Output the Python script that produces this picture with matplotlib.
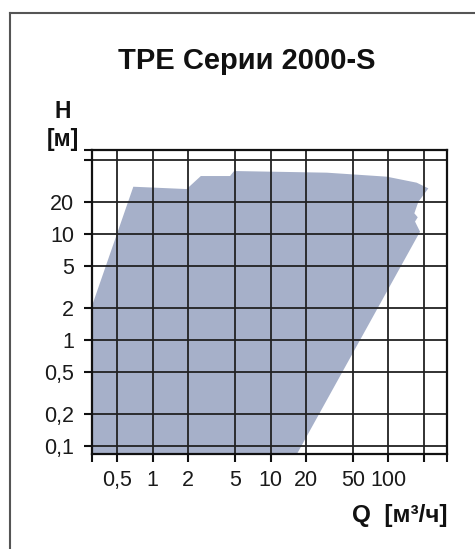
import matplotlib
matplotlib.use("Agg")
import matplotlib.pyplot as plt
from matplotlib.lines import Line2D

plt.rcParams['font.family'] = ['Liberation Sans', 'DejaVu Sans']

# Data
x_ticks = [0.5, 1, 2, 5, 10, 20, 50, 100]
x_tick_labels = ['0,5', '1', '2', '5', '10', '20', '50', '100']
x_extra_grid = [200]
y_ticks = [0.1, 0.2, 0.5, 1, 2, 5, 10, 20]
y_tick_labels = ['0,1', '0,2', '0,5', '1', '2', '5', '10', '20']
y_extra_grid = [50]

# Operating range polygon (Q [m3/h], H [m])
area_q = [0.28, 0.28, 0.684, 1.94, 2.56, 4.53, 4.9, 30, 97, 174, 218.6,
          179.8, 166.3, 177.6, 168.5, 179.8, 185.8, 16.4]
area_h = [0.08, 1.6, 28.2, 26.8, 35.6, 35.6, 39.7, 38.3, 35.1, 30.8, 27.2,
          20.3, 15.8, 14.5, 13.2, 11.4, 10.6, 0.08]

xlim = (0.303, 317)
ylim = (0.0835, 62.7)

fig = plt.figure(figsize=(4.75, 5.49), dpi=100)
ax = fig.add_axes([0.193, 0.173, 0.7488, 0.5537])
ax.set_xscale('log')
ax.set_yscale('log')
ax.set_xlim(*xlim)
ax.set_ylim(*ylim)

ax.fill(area_q, area_h, color='#a6b0c9', lw=0, zorder=1)

for gx in x_ticks + x_extra_grid:
    ax.axvline(gx, color='#222222', lw=1.3, zorder=2)
for gy in y_ticks + y_extra_grid:
    ax.axhline(gy, color='#222222', lw=1.3, zorder=2)

ax.xaxis.set_major_locator(matplotlib.ticker.FixedLocator(x_ticks + x_extra_grid + [xlim[0], xlim[1]]))
ax.xaxis.set_major_formatter(matplotlib.ticker.FixedFormatter(
    x_tick_labels + [''] * (len(x_extra_grid) + 2)))
ax.xaxis.set_minor_locator(matplotlib.ticker.NullLocator())
ax.yaxis.set_major_locator(matplotlib.ticker.FixedLocator(y_ticks + y_extra_grid + [ylim[1]]))
ax.yaxis.set_major_formatter(matplotlib.ticker.FixedFormatter(
    y_tick_labels + [''] * (len(y_extra_grid) + 1)))
ax.yaxis.set_minor_locator(matplotlib.ticker.NullLocator())

ax.tick_params(axis='both', which='major', direction='out', length=5.5, width=1.5,
               color='#111111', labelsize=15.5, pad=6, labelcolor='#1a1a1a')
ax.tick_params(axis='y', pad=7)

for sp in ax.spines.values():
    sp.set_linewidth(1.6)
    sp.set_color('#111111')
    sp.set_zorder(3)

fig.text(0.52, 0.874, 'TPE Серии 2000-S', ha='center', va='baseline',
         fontsize=21, fontweight='bold', color='#111111')
fig.text(0.1326, 0.785, 'H', ha='center', va='baseline',
         fontsize=16.5, fontweight='bold', color='#111111')
fig.text(0.1326, 0.734, '[м]', ha='center', va='baseline',
         fontsize=16.5, fontweight='bold', color='#111111')
fig.text(0.943, 0.049, 'Q  [м³/ч]', ha='right', va='baseline',
         fontsize=17.5, fontweight='bold', color='#111111')

fig.add_artist(Line2D([0.021, 0.021], [0.0, 0.9763], transform=fig.transFigure,
                      color='#555555', lw=1.5))
fig.add_artist(Line2D([0.021, 1.0], [0.9763, 0.9763], transform=fig.transFigure,
                      color='#555555', lw=1.5))

fig.savefig('out.png', dpi=100)
